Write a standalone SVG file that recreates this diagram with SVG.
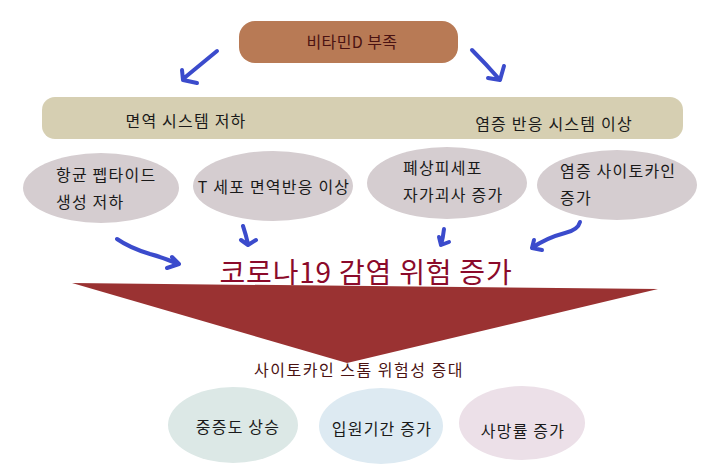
<svg xmlns="http://www.w3.org/2000/svg" width="720" height="471" viewBox="0 0 720 471">
<defs>
<style>
text{font-family:"Noto Sans CJK KR","Noto Sans",sans-serif;}
.t{font-size:16px;fill:#1a1a1a;letter-spacing:1.2px;}
.e{fill:#d5cdd0;}
.a{fill:none;stroke:#3b4bcc;stroke-width:4;stroke-linecap:round;stroke-linejoin:round;}
</style>
</defs>
<rect width="720" height="471" fill="#ffffff"/>
<g id="top">
<rect x="239" y="21" width="219" height="42" rx="16" fill="#b87a55"/>
<text x="352" y="48" text-anchor="middle" style="font-size:16px;fill:#4a1212;letter-spacing:0.4px">비타민D 부족</text>
</g>
<g id="band">
<rect x="42" y="97" width="641" height="42" rx="13" fill="#d6cfb2"/>
<text class="t" x="186" y="127" text-anchor="middle">면역 시스템 저하</text>
<text class="t" x="554" y="130" text-anchor="middle">염증 반응 시스템 이상</text>
</g>
<g id="n1">
<ellipse class="e" cx="101" cy="188" rx="78" ry="35"/>
<text class="t" x="56" y="181">항균 펩타이드</text>
<text class="t" x="56" y="208">생성 저하</text>
</g>
<g id="n2">
<ellipse class="e" cx="273" cy="186" rx="80" ry="35"/>
<text class="t" x="274" y="193" text-anchor="middle">T 세포 면역반응 이상</text>
</g>
<g id="n3">
<ellipse class="e" cx="447" cy="183" rx="80" ry="36"/>
<text class="t" x="403" y="174">폐상피세포</text>
<text class="t" x="403" y="201">자가괴사 증가</text>
</g>
<g id="n4">
<ellipse class="e" cx="617" cy="185" rx="80" ry="35"/>
<text class="t" x="560" y="177">염증 사이토카인</text>
<text class="t" x="560" y="204">증가</text>
</g>
<g id="connectors">
<path class="a" d="M217,51 L183,79 M182,70 L183,80 L197,83"/>
<path class="a" d="M472,50 Q486,64 500,80 M504,66 L500,80 L488,78"/>
<path class="a" d="M117,239 Q130,248 150,254 Q165,258 178,264 M172,257 L179,264 L167,268"/>
<path class="a" d="M243,226 Q246,235 248,244 M241,240 L248,245 L256,240"/>
<path class="a" d="M444,229 Q443,238 441,245 M439,237 L441,245 L449,242"/>
<path class="a" d="M580,222 Q578,230 565,233 Q546,238 532,248 M534,240 L532,248 L542,250"/>
</g>
<g id="title">
<text x="366" y="283" text-anchor="middle" style="font-size:28px;fill:#8b0a2a;letter-spacing:0.8px">코로나19 감염 위험 증가</text>
</g>
<g id="funnel">
<polygon points="72,283 658,289 347,363" fill="#9a3232"/>
<text x="359" y="376" text-anchor="middle" style="font-size:16px;fill:#4a1212;letter-spacing:1.5px">사이토카인 스톰 위험성 증대</text>
</g>
<g id="b1">
<ellipse cx="233" cy="425" rx="65" ry="38" fill="#dce8e6"/>
<text class="t" x="238" y="433" text-anchor="middle">중증도 상승</text>
</g>
<g id="b2">
<ellipse cx="381" cy="426" rx="62" ry="38" fill="#ddeaf2"/>
<text class="t" x="382" y="435" text-anchor="middle">입원기간 증가</text>
</g>
<g id="b3">
<ellipse cx="522" cy="423" rx="63" ry="37" fill="#ece0e8"/>
<text class="t" x="523" y="437" text-anchor="middle">사망률 증가</text>
</g>
</svg>
